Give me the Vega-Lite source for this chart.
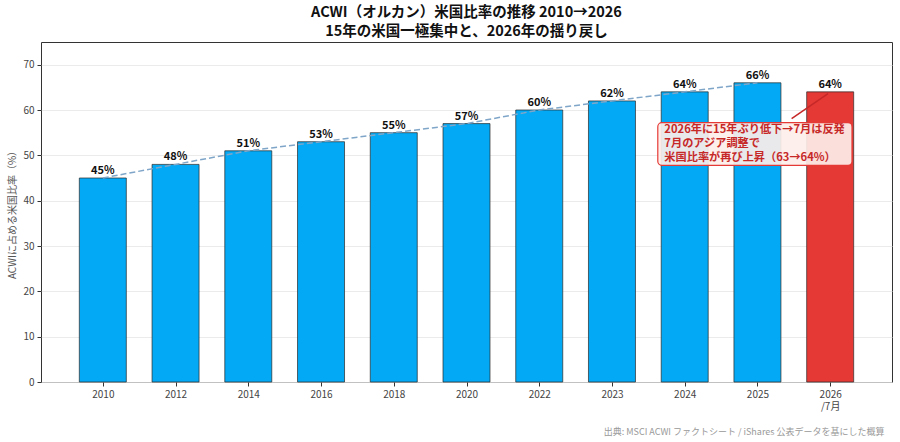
{
  "$schema": "https://vega.github.io/schema/vega-lite/v6.json",
  "width": 851,
  "height": 340,
  "autosize": {"type": "none"},
  "padding": {"left": 41, "top": 42, "right": 8, "bottom": 60},
  "background": "white",
  "title": {
    "text": ["ACWI（オルカン）米国比率の推移 2010→2026", "15年の米国一極集中と、2026年の揺り戻し"],
    "fontSize": 14.5,
    "fontWeight": "bold",
    "color": "#111",
    "anchor": "middle",
    "offset": 3,
    "lineHeight": 18.5,
    "font": "Noto Sans CJK JP"
  },
  "config": {
    "font": "Noto Sans CJK JP",
    "view": {"stroke": "#333", "strokeWidth": 1},
    "axis": {"labelFont": "Noto Sans CJK JP", "titleFont": "Noto Sans CJK JP", "labelColor": "#444", "labelFontSize": 10, "tickColor": "#333", "domain": false}
  },
  "data": {
    "values": [
      {"i": 0, "year": "2010", "v": 45, "kind": "hist"},
      {"i": 1, "year": "2012", "v": 48, "kind": "hist"},
      {"i": 2, "year": "2014", "v": 51, "kind": "hist"},
      {"i": 3, "year": "2016", "v": 53, "kind": "hist"},
      {"i": 4, "year": "2018", "v": 55, "kind": "hist"},
      {"i": 5, "year": "2020", "v": 57, "kind": "hist"},
      {"i": 6, "year": "2022", "v": 60, "kind": "hist"},
      {"i": 7, "year": "2023", "v": 62, "kind": "hist"},
      {"i": 8, "year": "2024", "v": 64, "kind": "hist"},
      {"i": 9, "year": "2025", "v": 66, "kind": "hist"},
      {"i": 10, "year": "2026/7月", "v": 64, "kind": "now"}
    ]
  },
  "encoding": {
    "x": {
      "field": "i",
      "type": "quantitative",
      "scale": {"domain": [-0.85, 10.85], "nice": false, "zero": false, "padding": 0},
      "axis": {
        "values": [0, 1, 2, 3, 4, 5, 6, 7, 8, 9, 10],
        "labelExpr": "datum.value == 10 ? ['2026', '/7月'] : ['2010','2012','2014','2016','2018','2020','2022','2023','2024','2025'][datum.value]",
        "grid": false,
        "tickSize": 4,
        "labelPadding": 3,
        "title": "出典: MSCI ACWI ファクトシート / iShares 公表データを基にした概算",
        "titleFontSize": 9,
        "titleFontWeight": "normal",
        "titleColor": "#999",
        "titleAnchor": "end",
        "titleAlign": "right",
        "titleBaseline": "middle",
        "titleX": 843,
        "titleY": 49
      }
    },
    "y": {
      "field": "v",
      "type": "quantitative",
      "scale": {"domain": [0, 75], "nice": false, "padding": 0},
      "axis": {
        "values": [0, 10, 20, 30, 40, 50, 60, 70],
        "grid": true,
        "gridColor": "#e6e6e6",
        "gridWidth": 0.8,
        "tickSize": 4,
        "labelPadding": 3,
        "title": "ACWIに占める米国比率（%）",
        "titleFontSize": 10,
        "titleFontWeight": "normal",
        "titleColor": "#555",
        "titleX": -29,
        "titleY": 170,
        "titleAlign": "center",
        "titleBaseline": "middle"
      }
    }
  },
  "layer": [
    {
      "mark": {"type": "bar", "size": 47, "stroke": "#2a2a2a", "strokeWidth": 0.7},
      "encoding": {
        "color": {
          "field": "kind",
          "type": "nominal",
          "scale": {"domain": ["hist", "now"], "range": ["#03A9F4", "#E53935"]},
          "legend": null
        }
      }
    },
    {
      "transform": [{"filter": "datum.kind == 'hist'"}],
      "mark": {"type": "line", "strokeDash": [6, 3], "color": "#7fa6c8", "strokeWidth": 1.5}
    },
    {
      "transform": [{"calculate": "datum.v + '%'", "as": "label"}],
      "mark": {"type": "text", "baseline": "bottom", "dy": -2, "fontSize": 11, "fontWeight": "bold", "color": "#111"},
      "encoding": {"text": {"field": "label", "type": "nominal"}}
    },
    {
      "transform": [{"filter": "datum.kind == 'now'"}],
      "mark": {"type": "rule", "color": "#c62828", "strokeWidth": 1.5},
      "encoding": {
        "x": {"datum": 9.47},
        "y": {"datum": 58.1},
        "x2": {"datum": 9.97},
        "y2": {"datum": 63.6}
      }
    },
    {
      "transform": [{"filter": "datum.kind == 'now'"}],
      "mark": {"type": "rect", "fill": "#fdeee9", "fillOpacity": 0.92, "stroke": "#e53935", "strokeWidth": 1.2, "cornerRadius": 4},
      "encoding": {
        "x": {"datum": 7.63},
        "x2": {"datum": 10.3},
        "y": {"datum": 47.8},
        "y2": {"datum": 57.2}
      }
    },
    {
      "transform": [{"filter": "datum.kind == 'now'"}],
      "mark": {"type": "text", "align": "left", "baseline": "middle", "fontSize": 11.2, "fontWeight": "bold", "color": "#c62828", "lineHeight": 14},
      "encoding": {
        "x": {"datum": 7.72},
        "y": {"datum": 55.5},
        "text": {"value": ["2026年に15年ぶり低下→7月は反発", "7月のアジア調整で", "米国比率が再び上昇（63→64%）"]}
      }
    }
  ]
}
